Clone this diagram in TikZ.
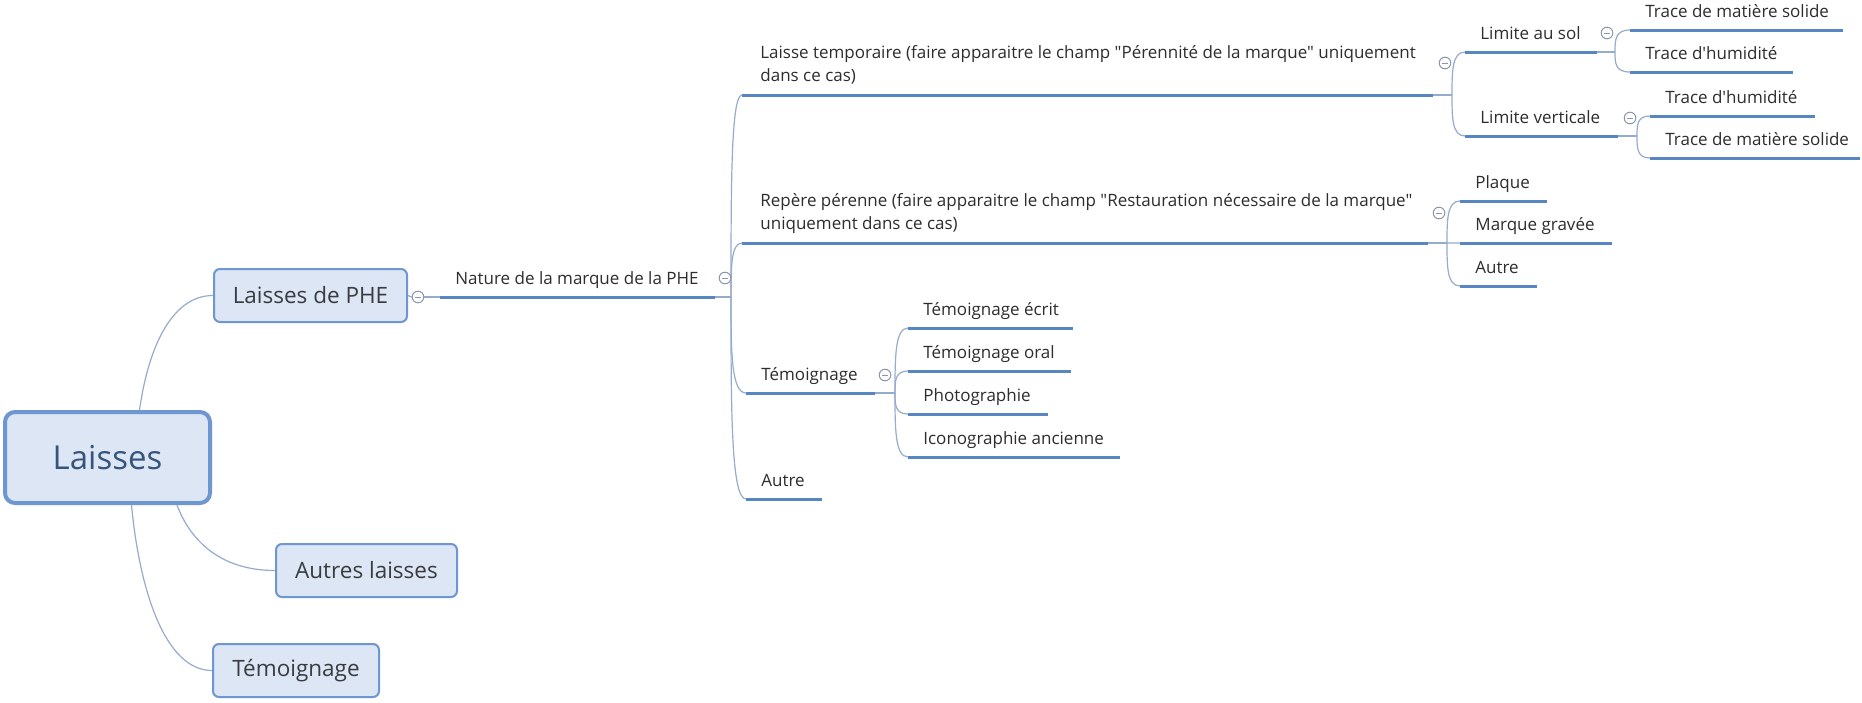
\documentclass[tikz,border=0pt]{standalone}
\usepackage{fontspec}
\setmainfont{Open Sans}[Ligatures=TeXOff]
\usetikzlibrary{calc}
\definecolor{ublue}{RGB}{88,134,197}
\definecolor{cline}{RGB}{150,172,204}
\definecolor{cgray}{RGB}{140,152,170}
\definecolor{boxfill}{RGB}{220,230,244}
\definecolor{boxdraw}{RGB}{110,150,208}
\definecolor{txt}{RGB}{45,45,45}
\definecolor{roottxt}{RGB}{55,84,122}
\definecolor{boxtxt}{RGB}{58,60,66}
\newcommand{\mmtopic}[5]{%
  \coordinate (#1s) at (#2,#4);
  \coordinate (#1e) at (#3,#4);
  \draw[uline] (#1s) -- (#1e);
  \node[lbl] (#1) at ($(#1s)+(15,-13)$) {#5};
}
\newcommand{\mmbr}[2]{\draw[conn] (#1) .. controls ($(#1)!0.55!(#1|-#2)$) and (#1|-#2) .. (#2);}
\begin{document}
\begin{tikzpicture}[x=0.5pt,y=-0.5pt,
 uline/.style={ublue, line width=1.5pt},
 conn/.style={cline, line width=0.6pt},
 lbl/.style={anchor=base west, inner sep=0pt, text=txt, font=\fontsize{8.5}{11.5}\selectfont},
 coll/.style={circle, draw=cgray, line width=0.5pt, minimum size=5.8pt, inner sep=0pt, fill=white,
   path picture={\draw[cgray,line width=0.45pt] ([xshift=-1.4pt]path picture bounding box.center) -- ([xshift=1.4pt]path picture bounding box.center);}},
 topbox/.style={draw=boxdraw, fill=boxfill, line width=1pt, rounded corners=3pt, text=boxtxt,
   font=\fontsize{11.25}{13}\selectfont, minimum height=26.5pt, inner sep=0pt},
 rootbox/.style={draw=boxdraw, fill=boxfill, line width=2pt, rounded corners=5pt, text=roottxt,
   font=\fontsize{16.5}{19}\selectfont, minimum width=102.5pt, minimum height=45.5pt, inner sep=0pt}]

\fill[white] (0,0) rectangle (1862,702);
\useasboundingbox (0,0) rectangle (1862,702);

% topics
\mmtopic{nat}{440}{715}{297}{Nature de la marque de la PHE}
\coordinate (lts) at (742,95);
\coordinate (lte) at (1433,95);
\draw[uline] (lts) -- (lte);
\node[lbl, align=left] (lt) at (760,81) {Laisse temporaire (faire apparaitre le champ "Pérennité de la marque" uniquement\\dans ce cas)};
\coordinate (rps) at (742,243);
\coordinate (rpe) at (1428,243);
\draw[uline] (rps) -- (rpe);
\node[lbl, align=left] (rp) at (760,229) {Repère pérenne (faire apparaitre le champ "Restauration nécessaire de la marque"\\uniquement dans ce cas)};
\mmtopic{tm}{746}{875}{393}{Témoignage}
\mmtopic{au}{746}{822}{499}{Autre}
\mmtopic{las}{1465}{1597}{52}{Limite au sol}
\mmtopic{lv}{1465}{1618}{136}{Limite verticale}
\mmtopic{sa}{1630}{1843}{30}{Trace de matière solide}
\mmtopic{ha}{1630}{1793}{72}{Trace d'humidité}
\mmtopic{hb}{1650}{1815}{116}{Trace d'humidité}
\mmtopic{sb}{1650}{1860}{158}{Trace de matière solide}
\mmtopic{pl}{1460}{1547}{201}{Plaque}
\mmtopic{mg}{1460}{1612}{243}{Marque gravée}
\mmtopic{aub}{1460}{1537}{286}{Autre}
\mmtopic{te}{908}{1073}{328}{Témoignage écrit}
\mmtopic{to}{908}{1071}{371}{Témoignage oral}
\mmtopic{ph}{908}{1048}{414}{Photographie}
\mmtopic{ic}{908}{1120}{457}{Iconographie ancienne}

% junctions
\coordinate (ja) at (731,297);
\coordinate (jb) at (1452,95);
\coordinate (jc) at (1447,243);
\coordinate (jd) at (895,393);
\coordinate (je) at (1615,52);
\coordinate (jf) at (1637,136);
\draw[conn] (nate) -- (ja);
\draw[conn] (lte) -- (jb);
\draw[conn] (rpe) -- (jc);
\draw[conn] (tme) -- (jd);
\draw[conn] (lase) -- (je);
\draw[conn] (lve) -- (jf);
\mmbr{ja}{lts} \mmbr{ja}{rps} \mmbr{ja}{tms} \mmbr{ja}{aus}
\mmbr{jb}{lass} \mmbr{jb}{lvs}
\mmbr{jc}{pls} \mmbr{jc}{mgs} \mmbr{jc}{aubs}
\mmbr{jd}{tes} \mmbr{jd}{tos} \mmbr{jd}{phs} \mmbr{jd}{ics}
\mmbr{je}{sas} \mmbr{je}{has}
\mmbr{jf}{hbs} \mmbr{jf}{sbs}

% collapse markers
\node[coll] (ca) at (725,278) {};
\node[coll] (cb) at (1445,63) {};
\node[coll] (cc) at (1439,213) {};
\node[coll] (cd) at (885,375) {};
\node[coll] (ce) at (1607,33) {};
\node[coll] (cf) at (1630,118) {};

% boxes
\node[rootbox] (root) at (107.5,457.5) {Laisses};
\node[topbox, minimum width=96.5pt] (phe) at (310.5,295.5) {Laisses de PHE};
\node[topbox, minimum width=90.5pt] (aut) at (366.5,570.5) {Autres laisses};
\node[topbox, minimum width=83pt] (tem) at (296,670.5) {Témoignage};

\node[coll] (c0) at (418,297) {};
\draw[conn] (phe.east) -- (c0.west);
\draw[conn] (c0.east) -- (nats);

\draw[conn] ([xshift=16pt]root.north) .. controls +(10,-70) and +(-38,0) .. (phe.west);
\draw[conn] ([xshift=34.75pt]root.south) .. controls +(13,35) and +(-55,0) .. (aut.west);
\draw[conn] ([xshift=12pt]root.south) .. controls +(8,85) and +(-47,0) .. (tem.west);
\end{tikzpicture}
\end{document}
